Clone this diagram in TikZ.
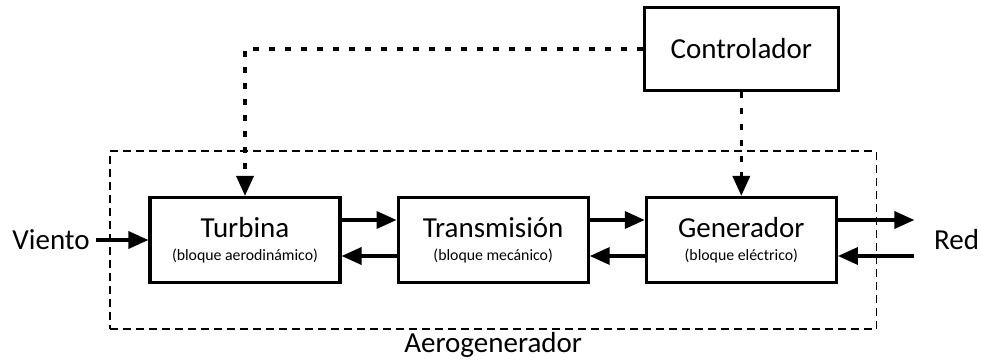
\documentclass[tikz,border=0pt]{standalone}
\usepackage{fontspec}
\setmainfont{Carlito}
\usetikzlibrary{arrows.meta,positioning,fit}

\newcommand{\subtxt}{\fontsize{9}{10}\selectfont}

\tikzset{
  block/.style={draw, line width=1.8pt, minimum width=3.8cm, minimum height=1.7cm, align=center},
  flow/.style={-{Triangle[length=0.4cm,width=0.34cm]}, line width=2pt},
  ctrl/.style={flow, dash pattern=on 0.12cm off 0.2cm},
  frame/.style={draw, line width=0.8pt, dash pattern=on 0.16cm off 0.1cm, inner xsep=0.77cm, inner ysep=0.9cm}
}

\begin{document}
\begin{tikzpicture}[font=\fontsize{16.5}{13}\selectfont]
\useasboundingbox (0,0) rectangle (19.62,7.24);

\node[block](turbina) at (4.9,2.44) {Turbina\\{\subtxt (bloque aerodinámico)}};
\node[block, right=1.1cm of turbina](transmision) {Transmisión\\{\subtxt (bloque mecánico)}};
\node[block, right=1.1cm of transmision](generador) {Generador\\{\subtxt (bloque eléctrico)}};
\node[block, minimum width=3.88cm, minimum height=1.66cm, above=2.08cm of generador](controlador) {Controlador};
\node[left=1.05cm of turbina](viento) {Viento};
\node[right=1.8cm of generador](red) {Red};
\coordinate[left=0.27cm of red.west](redlinea);
\node[frame, fit=(turbina)(generador), label={[inner sep=1pt]below:Aerogenerador}](aero) {};

\draw [flow](viento) -- (turbina);
\draw [flow]([yshift=0.4cm]turbina.east) -- ([yshift=0.4cm]transmision.west);
\draw [flow]([yshift=-0.32cm]transmision.west) -- ([yshift=-0.32cm]turbina.east);
\draw [flow]([yshift=0.4cm]transmision.east) -- ([yshift=0.4cm]generador.west);
\draw [flow]([yshift=-0.32cm]generador.west) -- ([yshift=-0.32cm]transmision.east);
\draw [flow]([yshift=0.4cm]generador.east) -- ([yshift=0.4cm]generador.east -| redlinea);
\draw [flow]([yshift=-0.32cm]generador.east -| redlinea) -- ([yshift=-0.32cm]generador.east);
\draw [ctrl](controlador) -- (generador);
\draw [ctrl](controlador) -| (turbina);
\end{tikzpicture}
\end{document}
